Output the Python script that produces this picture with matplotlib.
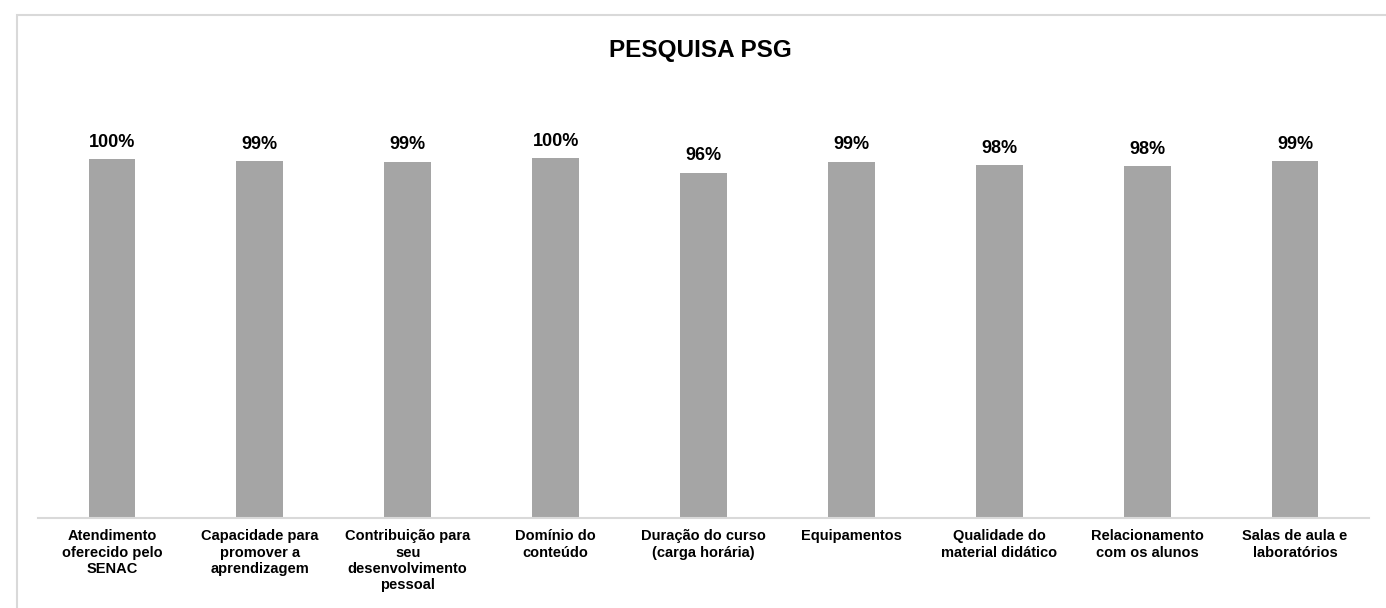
import matplotlib
matplotlib.use('Agg')
import matplotlib.pyplot as plt
from matplotlib.patches import Rectangle

plt.rcParams['font.family'] = ['Liberation Sans', 'DejaVu Sans']

# dados
categorias = [
    'Atendimento\noferecido pelo\nSENAC',
    'Capacidade para\npromover a\naprendizagem',
    'Contribuição para\nseu\ndesenvolvimento\npessoal',
    'Domínio do\nconteúdo',
    'Duração do curso\n(carga horária)',
    'Equipamentos',
    'Qualidade do\nmaterial didático',
    'Relacionamento\ncom os alunos',
    'Salas de aula e\nlaboratórios',
]
valores = [99.7, 99.3, 99.1, 100.0, 96.0, 99.1, 98.1, 97.9, 99.3]
rotulos = ['100%', '99%', '99%', '100%', '96%', '99%', '98%', '98%', '99%']

W, H = 1386, 608
fig = plt.figure(figsize=(W / 100, H / 100), dpi=100)

# moldura do gráfico (cinza claro), cortada à direita e embaixo
fig.patches.append(Rectangle((17 / W, -0.1), 1.2, 1.1 - 15 / H, transform=fig.transFigure,
                             fill=False, edgecolor='#D9D9D9', linewidth=1.5))

ax = fig.add_axes([38 / W, 90 / H, (1369 - 38) / W, 431.6 / H])
x = range(len(categorias))
bars = ax.bar(x, valores, width=0.316, color='#A5A5A5')
ax.set_xlim(-0.5, len(categorias) - 0.5)
ax.set_ylim(0, 120)

for b, r in zip(bars, rotulos):
    ax.annotate(r, (b.get_x() + b.get_width() / 2, b.get_height()),
                xytext=(0, 6), textcoords='offset points',
                ha='center', va='bottom', fontsize=13, fontweight='bold')

ax.set_xticks(list(x))
ax.set_xticklabels(categorias, fontsize=10.5, fontweight='bold', linespacing=1.22, va='top')
ax.tick_params(axis='x', length=0, pad=8)
ax.set_yticks([])
for s in ['left', 'right', 'top']:
    ax.spines[s].set_visible(False)
ax.spines['bottom'].set_color('#D9D9D9')
ax.spines['bottom'].set_linewidth(1.5)

fig.text(700 / W, 1 - 50 / H, 'PESQUISA PSG', ha='center', va='center',
         fontsize=17.5, fontweight='bold')

fig.savefig('out.png', dpi=100)
